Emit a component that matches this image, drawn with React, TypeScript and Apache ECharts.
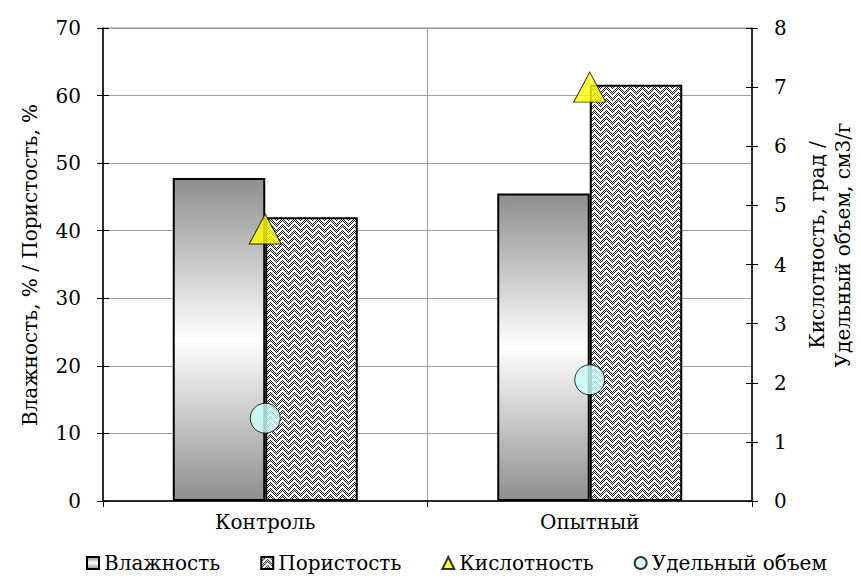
import React, { useEffect, useRef } from 'react';
import * as echarts from 'echarts';

// Samples
const categories = ['Контроль', 'Опытный'];
// Left axis, %
const moisture = [47.8, 45.5];
const porosity = [42.0, 61.6];
// Right axis
const acidity = [4.6, 7.0];
const specificVolume = [1.4, 2.05];

const leftAxisRange = { min: 0, max: 70, interval: 10 };
const rightAxisRange = { min: 0, max: 8, interval: 1 };

const leftTitle = 'Влажность, % / Пористость, %';
const rightTitleLines = ['Кислотность, град /', 'Удельный объем, см3/г'];

const FONT = 'DejaVu Serif';
const FS = 20;

// Woven zigzag hatch used for the porosity bars
function makeWeave(): HTMLCanvasElement {
  const size = 12;
  const c = document.createElement('canvas');
  c.width = size;
  c.height = size;
  const ctx = c.getContext('2d')!;
  ctx.fillStyle = '#ffffff';
  ctx.fillRect(0, 0, size, size);
  ctx.fillStyle = '#1a1a1a';
  for (let y = 0; y < size; y++) {
    for (let x = 0; x < size; x++) {
      if ((x + y) % 2 === 0) ctx.fillRect(x, y, 1, 1);
    }
  }
  ctx.fillStyle = '#ffffff';
  for (let x = 0; x < size; x++) {
    const base = x < 6 ? 5 - x : x - 6;
    for (const shift of [0, 6]) {
      for (let t = 0; t < 2; t++) {
        const y = (base + shift + t) % size;
        ctx.fillRect(x, y, 1, 1);
      }
    }
  }
  return c;
}

export default function App() {
  const ref = useRef<HTMLDivElement>(null);

  useEffect(() => {
    if (!ref.current) return;
    const chart = echarts.init(ref.current, null, { renderer: 'svg' });
    const weave = makeWeave();

    const tickAxisCommon = {
      type: 'value' as const,
      axisLine: { show: false },
      axisLabel: { show: false },
      splitLine: { show: false },
      axisTick: { show: true, inside: true, length: 6, lineStyle: { color: '#000', width: 1 } },
    };

    const txt = { fontFamily: FONT, fontSize: FS, color: '#000' };

    chart.setOption({
      animation: false,
      backgroundColor: '#ffffff',
      textStyle: { fontFamily: FONT },
      grid: {
        left: 103,
        right: 109,
        top: 28,
        bottom: 77,
        show: true,
        borderColor: '#808080',
        borderWidth: 1,
        backgroundColor: 'transparent',
      },
      legend: {
        left: 86,
        top: 553,
        padding: 0,
        itemWidth: 12,
        itemHeight: 12,
        itemGap: 40,
        textStyle: txt,
        data: [
          { name: 'Влажность', icon: 'rect' },
          { name: 'Пористость', icon: 'rect' },
          { name: 'Кислотность', icon: 'triangle' },
          { name: 'Удельный объем', icon: 'circle' },
        ],
      },
      xAxis: {
        type: 'category',
        data: categories,
        boundaryGap: true,
        axisLine: { show: true, lineStyle: { color: '#000', width: 1.5 } },
        axisTick: { show: true, alignWithLabel: false, length: 6, lineStyle: { color: '#000' } },
        axisLabel: { ...txt, margin: 11 },
        splitLine: { show: true, lineStyle: { color: '#a0a0a0', width: 1 } },
      },
      yAxis: [
        {
          type: 'value',
          position: 'left',
          ...leftAxisRange,
          axisLine: { show: true, lineStyle: { color: '#000', width: 1.5 } },
          axisTick: { show: true, length: 6, lineStyle: { color: '#000' } },
          axisLabel: { ...txt, margin: 22 },
          splitLine: { show: true, lineStyle: { color: '#a0a0a0', width: 1 } },
        },
        {
          type: 'value',
          position: 'right',
          ...rightAxisRange,
          axisLine: { show: true, lineStyle: { color: '#000', width: 1.5 } },
          axisTick: { show: true, length: 6, lineStyle: { color: '#000' } },
          axisLabel: { ...txt, margin: 22 },
          splitLine: { show: false },
        },
        { ...tickAxisCommon, position: 'left', ...leftAxisRange },
        { ...tickAxisCommon, position: 'right', ...rightAxisRange },
      ],
      series: [
        {
          name: 'Влажность',
          type: 'bar',
          yAxisIndex: 0,
          data: moisture,
          barWidth: 92.5,
          barGap: '0%',
          itemStyle: {
            color: {
              type: 'linear',
              x: 0,
              y: 0,
              x2: 0,
              y2: 1,
              colorStops: [
                { offset: 0, color: '#8e8e8e' },
                { offset: 0.5, color: '#ffffff' },
                { offset: 1, color: '#8e8e8e' },
              ],
            },
            borderColor: '#000',
            borderWidth: 2,
          },
        },
        {
          name: 'Пористость',
          type: 'bar',
          yAxisIndex: 0,
          data: porosity,
          barWidth: 92.5,
          barGap: '0%',
          itemStyle: {
            color: { image: weave, repeat: 'repeat', imageWidth: 12, imageHeight: 12 },
            borderColor: '#000',
            borderWidth: 2,
          },
        },
        {
          name: 'Кислотность',
          type: 'scatter',
          yAxisIndex: 1,
          data: acidity,
          symbol: 'triangle',
          symbolSize: [32, 30],
          itemStyle: { color: '#ffff00', borderColor: '#000', borderWidth: 1 },
        },
        {
          name: 'Удельный объем',
          type: 'scatter',
          yAxisIndex: 1,
          data: specificVolume,
          symbol: 'circle',
          symbolSize: 30,
          itemStyle: { color: '#ccffff', borderColor: '#000', borderWidth: 1 },
        },
      ],
      graphic: [
        {
          type: 'text',
          x: 30,
          y: 265,
          rotation: Math.PI / 2,
          style: {
            text: leftTitle,
            font: `${FS}px ${FONT}`,
            fill: '#000',
            align: 'center',
            verticalAlign: 'middle',
          },
        },
        ...rightTitleLines.map((line, i) => ({
          type: 'text',
          x: 817 + i * 26,
          y: 245,
          rotation: Math.PI / 2,
          style: {
            text: line,
            font: `${FS}px ${FONT}`,
            fill: '#000',
            align: 'center',
            verticalAlign: 'middle',
          },
        })),
      ],
    });

    return () => chart.dispose();
  }, []);

  return (
    <div
      ref={ref}
      style={{ position: 'fixed', left: 0, top: 0, width: 861, height: 578 }}
    />
  );
}
